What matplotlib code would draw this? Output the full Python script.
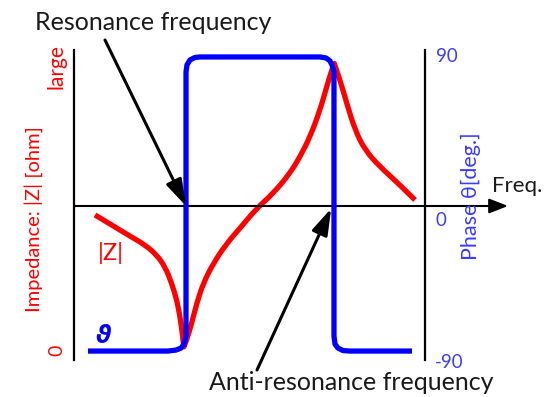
import matplotlib
matplotlib.use("Agg")
import matplotlib.pyplot as plt
from matplotlib.path import Path
from matplotlib.patches import PathPatch

plt.rcParams['font.family'] = ['Lato', 'DejaVu Sans']

# ---- data (arbitrary frequency units 0..100, impedance arbitrary 0..100) ----
freq_z = [5.98, 10.74, 15.47, 20.23, 23.56, 25.93, 27.83, 29.26, 30.20, 30.85, 31.14, 31.34,
          32.11, 33.53, 34.96, 36.84, 39.69, 43.50, 47.29, 52.05, 56.78, 61.54, 64.39,
          67.24, 70.09, 71.99, 73.42, 74.16,
          75.78, 77.69, 80.06, 82.91, 87.18, 91.94, 97.15]
impedance = [46.9, 43.4, 39.9, 36.5, 33.0, 28.9, 23.2, 17.4, 11.6, 5.8, 2.3, 1.1,
             3.5, 9.3, 16.2, 23.2, 30.1, 37.0, 42.3, 49.2, 54.4, 61.4, 67.1,
             74.0, 83.3, 91.4, 97.2, 99.5,
             93.8, 85.7, 76.4, 69.4, 63.6, 58.4, 52.1]

freq_p = [3.99, 26.78, 29.06, 30.48, 31.34, 31.91, 31.91, 32.19, 33.05, 34.47, 35.90,
          70.09, 71.79, 72.93, 73.50, 74.07, 74.07, 74.36, 75.21, 76.64, 78.63, 96.30]
phase = [-87.6, -87.6, -87.0, -85.8, -83.4, -78.5, 80.9, 85.2, 88.2, 89.7, 90.0,
         90.0, 89.4, 87.6, 85.2, 80.9, -78.5, -83.4, -85.8, -87.3, -87.6, -87.6]

f_resonance = 31.91
f_antiresonance = 74.07

phase_ticks = [90, 0, -90]
phase_tick_labels = ['90', '0', '-90']

RED = '#ff0000'
BLUE = '#0000ff'
LBLUE = '#3c3cff'

W, H = 553, 397
fig = plt.figure(figsize=(W / 100, H / 100), dpi=100)


def fx(x):
    return x / W


def fy(y):
    return 1 - y / H


def smooth_path(xs, ys, breaks):
    """Quadratic-spline path through the read points; passes exactly
    through the end points and the break (cusp) points."""
    pts = list(zip(xs, ys))
    verts, codes = [pts[0]], [Path.MOVETO]
    bounds = [0] + sorted(breaks) + [len(pts) - 1]
    for a, b in zip(bounds[:-1], bounds[1:]):
        seg = pts[a:b + 1]
        if len(seg) == 2:
            verts.append(seg[1]); codes.append(Path.LINETO)
            continue
        for i in range(1, len(seg) - 1):
            ctrl = seg[i]
            if i < len(seg) - 2:
                end = ((seg[i][0] + seg[i + 1][0]) / 2, (seg[i][1] + seg[i + 1][1]) / 2)
            else:
                end = seg[i + 1]
            verts += [ctrl, end]
            codes += [Path.CURVE3, Path.CURVE3]
    return Path(verts, codes)


ax = fig.add_axes([fx(74), fy(360), (425 - 74) / W, 310 / H])
ax.set_xlim(0, 100)
ax.set_ylim(-3.47, 104.17)
ax2 = ax.twinx()
ax2.set_ylim(-93.0, 94.2)

for a in (ax, ax2):
    a.set_xticks([])
    a.set_yticks([])
    a.patch.set_visible(False)
    for s in ('top', 'bottom'):
        a.spines[s].set_visible(False)
ax2.spines['left'].set_visible(False)
ax.spines['right'].set_visible(False)
ax.spines['left'].set_linewidth(1.6)
ax2.spines['right'].set_linewidth(1.6)

i_min = impedance.index(min(impedance))
i_max = impedance.index(max(impedance))
ax.add_patch(PathPatch(smooth_path(freq_z, impedance, [i_min, i_max]),
                       facecolor='none', edgecolor=RED, lw=3.8,
                       joinstyle='round', capstyle='butt', zorder=3))
ax2.plot(freq_p, phase, color=BLUE, lw=3.8, solid_joinstyle='round',
         solid_capstyle='butt', zorder=4)

# horizontal frequency axis with arrow
ax2.annotate('', xy=(1.2365, 0), xytext=(0, 0),
             xycoords=ax2.get_yaxis_transform(), textcoords=ax2.get_yaxis_transform(),
             arrowprops=dict(arrowstyle='-|>,head_length=1.15,head_width=0.45',
                             lw=1.5, color='black', mutation_scale=10,
                             shrinkA=0, shrinkB=0), annotation_clip=False, zorder=2)

# pointer arrows
ax2.annotate('', xy=(f_resonance, 0), xytext=(105, H - 40), textcoords='figure pixels',
             arrowprops=dict(arrowstyle='-|>,head_length=1.6,head_width=0.5',
                             lw=2.2, color='black', mutation_scale=10,
                             shrinkA=0, shrinkB=0), annotation_clip=False, zorder=5)
ax2.annotate('', xy=(f_antiresonance - 0.8, -1.5), xytext=(257, H - 370), textcoords='figure pixels',
             arrowprops=dict(arrowstyle='-|>,head_length=1.6,head_width=0.5',
                             lw=2.2, color='black', mutation_scale=10,
                             shrinkA=0, shrinkB=0), annotation_clip=False, zorder=5)

# texts
big = 18
fig.text(fx(153), fy(22), 'Resonance frequency', fontsize=big, color='#1a1a1a',
         ha='center', va='center')
fig.text(fx(351), fy(382), 'Anti-resonance frequency', fontsize=big, color='#1a1a1a',
         ha='center', va='center')
fig.text(fx(517), fy(186), 'Freq.', fontsize=16, color='#1a1a1a', ha='center', va='center')

fig.text(fx(34), fy(219), 'Impedance: |Z| [ohm]', fontsize=14.5, color=RED,
         rotation=90, ha='center', va='center')
fig.text(fx(57), fy(67), 'large', fontsize=15, color=RED, rotation=90, ha='center', va='center')
fig.text(fx(57), fy(350), '0', fontsize=14, color=RED, rotation=90, ha='center', va='center')

fig.text(fx(471), fy(196), 'Phase θ[deg.]', fontsize=15.5, color=LBLUE,
         rotation=90, ha='center', va='center')
label_pos = {'90': (447, 57), '0': (441, 220), '-90': (449, 362)}
for t, lab in zip(phase_ticks, phase_tick_labels):
    x, y = label_pos[lab]
    fig.text(fx(x), fy(y), lab, fontsize=13.5, color=LBLUE, ha='center', va='center')

fig.text(fx(111), fy(253), '|Z|', fontsize=17, color=RED, ha='center', va='center')
fig.text(fx(104), fy(336), 'ϑ', fontsize=17, color=BLUE, ha='center', va='center',
         fontweight='bold', fontstyle='italic', family=['DejaVu Sans'])

fig.savefig('out.png', dpi=100)
